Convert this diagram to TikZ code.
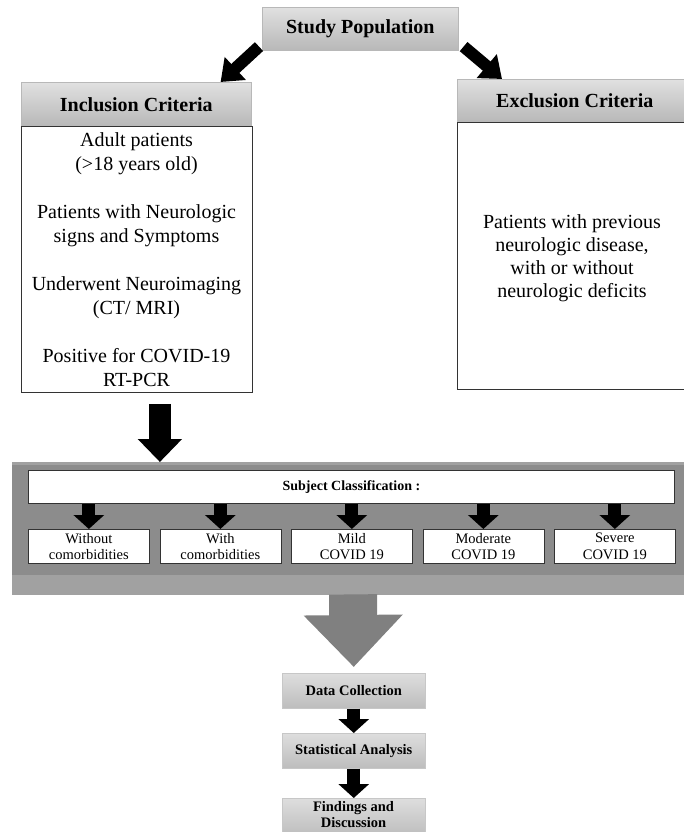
\documentclass[tikz,border=0pt]{standalone}
\usepackage{fontspec}
\setmainfont{Liberation Serif}
\usetikzlibrary{arrows.meta,calc}
\begin{document}
\begin{tikzpicture}[x=1pt,y=-1pt,
  hdr/.style={draw=black!28, line width=0.6pt, top color=black!12, bottom color=black!28, inner sep=0pt, anchor=north west, font=\fontsize{20}{24}\selectfont\bfseries},
  body/.style={draw=black!80, line width=0.8pt, fill=white, inner sep=0pt, anchor=north west},
  smallbox/.style={draw=black!80, line width=0.7pt, fill=white, inner sep=0pt, anchor=north west, minimum width=121pt, minimum height=34pt, align=center, font=\fontsize{14.5}{16.5}\selectfont},
  greybox/.style={draw=black!22, line width=0.5pt, top color=black!13, bottom color=black!26, inner sep=0pt, anchor=north west, minimum width=143pt, align=center, font=\fontsize{14.5}{17}\selectfont\bfseries},
  blk/.style={draw=black, line width=13pt, -{Triangle[width=30pt,length=14pt]}},
  bigblk/.style={draw=black, line width=22pt, -{Triangle[width=43pt,length=23pt]}},
  diagblk/.style={draw=black, line width=12pt, -{Triangle[width=30pt,length=20pt]}},
  greyarrow/.style={draw=black!50, line width=48pt, -{Triangle[width=96pt,length=52pt]}},
  txt/.style={align=center, inner sep=0pt, anchor=north}
]
\useasboundingbox (0,0) rectangle (683,832);

% top
\node[hdr, minimum width=196pt, minimum height=43pt] (sp) at (262,7) {Study Population};

% inclusion
\node[hdr, minimum width=230pt, minimum height=44pt] (inchead) at (21,82) {Inclusion Criteria};
\node[body, minimum width=231pt, minimum height=266pt] (inc) at (21,126) {};
\node[txt, font=\fontsize{20}{24}\selectfont] (inctext) at (136.5,132)
  {Adult patients\\(>18 years old)\\[24pt]Patients with Neurologic\\signs and Symptoms\\[24pt]Underwent Neuroimaging\\(CT/ MRI)\\[24pt]Positive for COVID-19\\RT-PCR};

% exclusion
\node[hdr, minimum width=235pt, minimum height=43pt] (exhead) at (457,79) {Exclusion Criteria};
\node[body, minimum width=235pt, minimum height=267pt] (exc) at (457,122) {};
\node[txt, font=\fontsize{20}{23}\selectfont] (exctext) at (572,214)
  {Patients with previous\\neurologic disease,\\with or without\\neurologic deficits};

% arrows from study population
\draw[diagblk] ($(sp.south west)+(-3,-4)$) -- ($(inchead.north east)+(-31,0)$);
\draw[diagblk] ($(sp.south east)+(5,-4)$) -- ($(exhead.north west)+(45,0)$);

% panel
\node[fill=black!45, inner sep=0pt, anchor=north west, minimum width=680pt, minimum height=133pt] (panel) at (12,462) {};
\fill[black!37] (panel.north west) rectangle ($(panel.north east)+(0,3)$);
\fill[black!37] (panel.south west) rectangle ($(panel.south east)+(0,-20)$);

\coordinate (bt) at ($(inc.south)+(23,11)$);
\draw[bigblk] (bt) -- (bt |- panel.north);

\node[body, minimum width=646pt, minimum height=33pt, font=\fontsize{14}{16}\selectfont\bfseries] (sc) at (28,470) {Subject Classification :};

\node[smallbox] (b1) at (28,529) {Without\\comorbidities};
\node[smallbox] (b2) at (159.5,529) {With\\comorbidities};
\node[smallbox] (b3) at (291,529) {Mild\\COVID 19};
\node[smallbox] (b4) at (422.5,529) {Moderate\\COVID 19};
\node[smallbox] (b5) at (554,529) {Severe\\COVID 19};

\foreach \b in {b1,b2,b3,b4,b5}{
  \draw[blk] (sc.south -| \b.north) -- (\b.north);
}

% bottom chain
\node[greybox, minimum height=35pt] (dc) at (282,673) {Data Collection};
\node[greybox, minimum height=35pt] (sa) at (282,733) {Statistical Analysis};
\node[greybox, minimum height=38pt, anchor=north west] (fd) at (282,798) {};
\node[txt, font=\fontsize{14.5}{16.5}\selectfont\bfseries] (fdtext) at (353.5,801) {Findings and\\Discussion};

\draw[greyarrow] ($(panel.south west)+(341,-1)$) -- ($(dc.north)+(0,-6)$);
\draw[blk] (dc.south) -- (sa.north);
\draw[blk] (sa.south) -- (fd.north);
\end{tikzpicture}
\end{document}
